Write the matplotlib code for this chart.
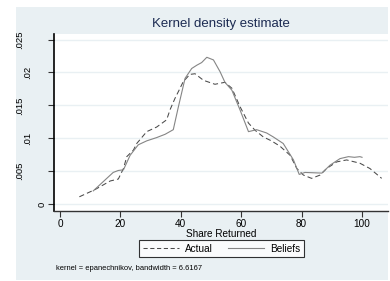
import numpy as np
import matplotlib.pyplot as plt
from matplotlib.patches import Rectangle
from matplotlib.lines import Line2D
import matplotlib.transforms as mtransforms

plt.rcParams['font.family'] = ['Liberation Sans', 'DejaVu Sans']

# Actual (dashed)
actual_x = [6.4, 11.6, 16.6, 19.3, 21.0, 22.1, 24.3, 25.4, 28.7, 32.0, 35.3, 36.4,
            38.1, 39.2, 40.8, 43.0, 44.7, 47.5, 51.3, 54.6, 56.9, 59.6, 62.4, 64.6,
            67.3, 70.0, 72.8, 76.2, 78.4, 80.6, 83.3, 86.1, 88.3, 91.6, 94.9, 99.3,
            102.6, 106.5]
actual_y = [0.0011, 0.0022, 0.0035, 0.0038, 0.0054, 0.0072, 0.0082, 0.0092, 0.0110,
            0.0117, 0.0128, 0.0143, 0.0161, 0.0171, 0.0186, 0.0197, 0.0198, 0.0188,
            0.0182, 0.0185, 0.0176, 0.0148, 0.0123, 0.0112, 0.0102, 0.0096, 0.0088,
            0.0074, 0.0054, 0.0044, 0.0039, 0.0044, 0.0054, 0.0064, 0.0067, 0.0062,
            0.0054, 0.0039]

# Beliefs (solid)
beliefs_x = [11.0, 14.3, 17.6, 19.3, 21.0, 23.2, 25.9, 28.7, 32.0, 34.8, 37.5, 39.2,
             41.4, 43.6, 45.3, 46.9, 48.6, 50.8, 53.0, 54.6, 56.9, 59.6, 62.4, 65.1,
             68.4, 70.6, 73.9, 77.3, 79.2, 81.1, 86.7, 89.4, 92.7, 95.5, 97.5, 99.3,
             100.0]
beliefs_y = [0.0020, 0.0034, 0.0048, 0.0051, 0.0052, 0.0074, 0.0090, 0.0096, 0.0101,
             0.0106, 0.0113, 0.0148, 0.0191, 0.0206, 0.0211, 0.0215, 0.0223, 0.0219,
             0.0201, 0.0185, 0.0173, 0.0143, 0.0110, 0.0113, 0.0108, 0.0102, 0.0092,
             0.0067, 0.0045, 0.0048, 0.0047, 0.0059, 0.0069, 0.0072, 0.0071, 0.0072,
             0.0071]

xticks = [0, 20, 40, 60, 80, 100]
yticks = [0, 0.005, 0.01, 0.015, 0.02, 0.025]
ytick_labels = ["0", ".005", ".01", ".015", ".02", ".025"]

W, H = 390, 281
bg = '#e9f0f3'
c_act = '#4a4a4a'
c_bel = '#858585'
fig = plt.figure(figsize=(W / 100, H / 100), dpi=100)
fig.patch.set_facecolor('white')

# graph region
fig.add_artist(Rectangle((16 / W, 1 - 280 / H), (388 - 16) / W, (280 - 7) / H,
                         transform=fig.transFigure, facecolor=bg, edgecolor='none', zorder=0))

ax = fig.add_axes([54 / W, 1 - 211 / H, (388 - 54) / W, (211 - 34) / H])
ax.set_facecolor('white')

ax.plot(actual_x, actual_y, color=c_act, lw=0.75, dashes=(5, 3), label='Actual')
ax.plot(beliefs_x, beliefs_y, color=c_bel, lw=0.8, label='Beliefs')

ax.set_xlim(-2.0, 108.6)
ax.set_ylim(-0.00106, 0.02584)

for yv in yticks:
    ax.axhline(yv, color=bg, lw=1.0, zorder=0)

ax.set_xticks(xticks)
ax.set_xticklabels([str(v) for v in xticks], fontsize=7.2)
ax.set_yticks(yticks)
ax.set_yticklabels([])
ax.tick_params(axis='both', direction='out', length=4, width=0.8, color='#333333', pad=2)

# rotated y tick labels, placed Stata-style
trans = mtransforms.blended_transform_factory(fig.transFigure, ax.transData)
for yv, lab in zip(yticks, ytick_labels):
    xc = 50 - 7.5 * len(lab)
    fig.text(xc / W, yv, lab, transform=trans, rotation=90, fontsize=6.8,
             ha='center', va='center')

for s in ['top', 'right']:
    ax.spines[s].set_visible(False)
ax.spines['left'].set_color('black')
ax.spines['left'].set_linewidth(1.2)
ax.spines['bottom'].set_color('#333333')
ax.spines['bottom'].set_linewidth(1.0)

ax.set_xlabel('Share Returned', fontsize=7.2, labelpad=0)

fig.text(221 / W, 1 - 24 / H, 'Kernel density estimate', fontsize=9.5,
         color='#1c2b52', ha='center', va='center')

leg = fig.legend(handles=[Line2D([], [], color=c_act, lw=0.75, dashes=(4, 2.5)),
                          Line2D([], [], color=c_bel, lw=0.8)],
                 labels=['Actual', 'Beliefs'], ncol=2, fontsize=7.2,
                 loc='center', bbox_to_anchor=(221.5 / W, 1 - 248.5 / H),
                 frameon=True, fancybox=False, edgecolor='black',
                 handlelength=3.6, columnspacing=1.6, handletextpad=0.6,
                 borderpad=0.35)
leg.get_frame().set_linewidth(0.8)

fig.text(56 / W, 1 - 268 / H, 'kernel = epanechnikov, bandwidth = 6.6167',
         fontsize=5.4, ha='left', va='center')

fig.savefig('out.png', dpi=100, facecolor='white')
